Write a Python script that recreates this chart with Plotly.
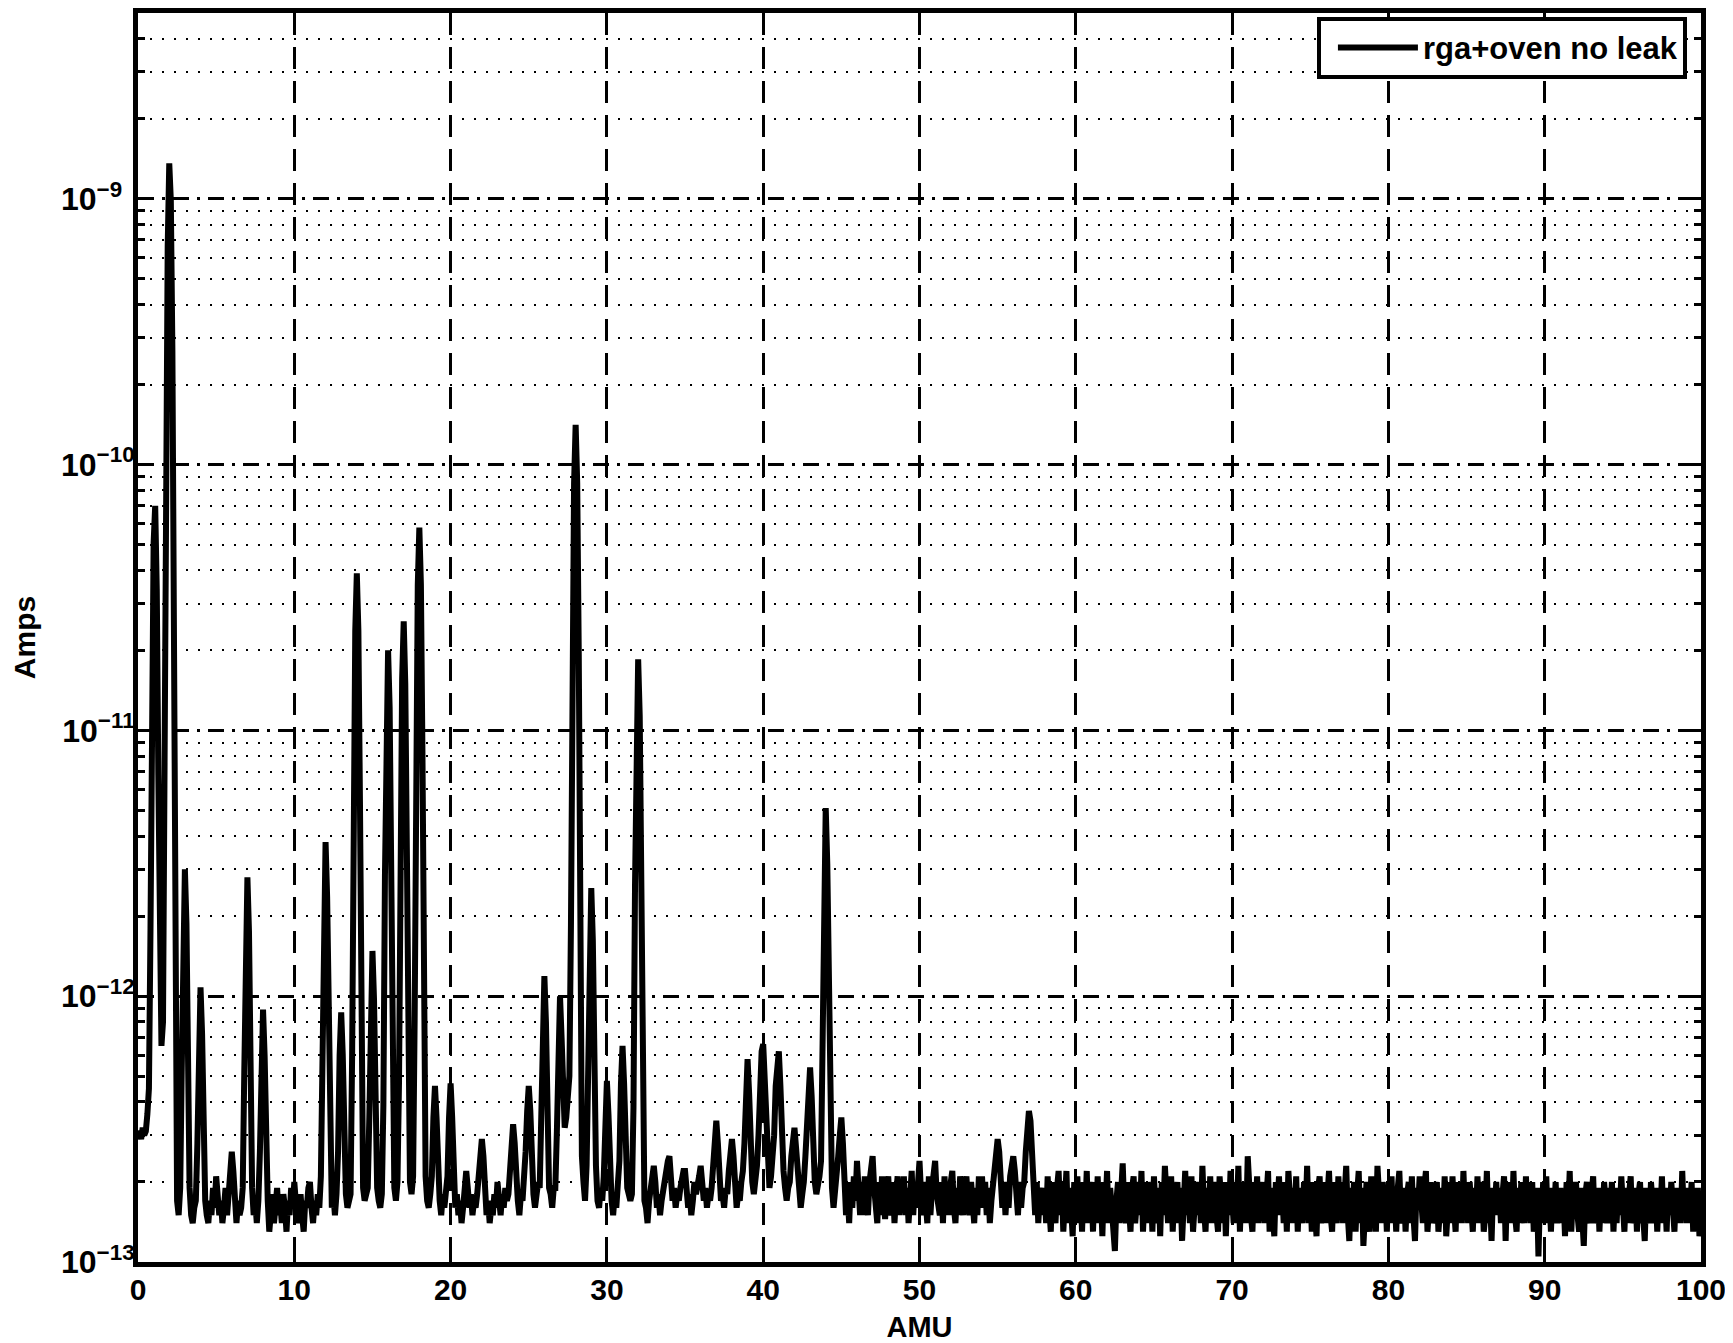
import numpy as np
import plotly.graph_objects as go

# Ion current in units of 1e-13 A, one value every 0.1 AMU (10 values per line = one AMU)
amps_00_10 = [
    3.0, 3.1, 2.9, 3.2, 3.0, 3.1, 3.6, 4.5, 18, 139,
    508, 700, 341, 68, 10, 6.5, 8.0, 86, 1210, 6620,
    13600, 9870, 2690, 270, 11.6, 1.7, 1.5, 1.9, 5.4, 18.8,
    30, 18.8, 5.4, 1.9, 1.5, 1.4, 1.6, 1.7, 2.8, 7.2,
    10.8, 7.2, 2.8, 1.7, 1.5, 1.4, 1.7, 1.5, 1.9, 1.6,
    2.1, 1.8, 1.5, 1.7, 1.4, 1.6, 1.9, 1.5, 1.8, 2.2,
    2.6, 2.2, 1.6, 1.4, 1.7, 1.5, 1.6, 1.9, 5.2, 17.6,
    28, 17.6, 5.2, 1.9, 1.5, 1.7, 1.4, 1.7, 2.6, 6.0,
    8.9, 6.0, 2.6, 1.7, 1.3, 1.5, 1.8, 1.4, 1.6, 1.9,
    1.5, 1.7, 1.4, 1.8, 1.6, 1.3, 1.7, 1.5, 1.9, 1.6,
]
amps_10_20 = [
    2.0, 1.7, 1.4, 1.6, 1.8, 1.5, 1.3, 1.7, 1.6, 1.9,
    2.0, 1.6, 1.4, 1.7, 1.5, 1.8, 1.6, 2.1, 6.6, 23.7,
    38, 23.7, 6.6, 2.1, 1.6, 1.8, 1.5, 1.8, 2.6, 6.0,
    8.7, 6.0, 2.6, 1.8, 1.6, 1.7, 1.8, 6.0, 54, 237,
    390, 237, 54, 6.0, 1.9, 1.7, 1.8, 1.9, 3.5, 9.7,
    14.8, 9.7, 3.5, 1.9, 1.7, 1.6, 1.8, 3.9, 28.5, 122,
    200, 122, 28.5, 3.9, 1.9, 1.7, 2.0, 4.8, 36, 157,
    257, 150, 36, 4.8, 2.0, 1.8, 2.1, 8.2, 80, 353,
    580, 353, 80, 8.2, 2.1, 1.7, 1.6, 1.8, 2.1, 3.5,
    4.6, 3.5, 2.1, 1.7, 1.5, 1.8, 1.6, 1.9, 2.1, 3.5,
]
amps_20_30 = [
    4.7, 3.5, 2.1, 1.6, 1.8, 1.5, 1.7, 1.4, 1.6, 1.9,
    2.2, 1.9, 1.6, 1.8, 1.5, 1.7, 1.6, 1.8, 2.1, 2.6,
    2.9, 2.5, 1.9, 1.5, 1.7, 1.4, 1.6, 1.5, 1.8, 1.6,
    2.0, 1.7, 1.5, 1.8, 1.6, 1.9, 1.7, 1.8, 2.1, 2.8,
    3.3, 2.8, 2.0, 1.7, 1.5, 1.8, 1.7, 2.0, 2.6, 3.7,
    4.6, 3.7, 2.3, 1.8, 1.6, 1.9, 2.0, 1.9, 3.2, 8.0,
    11.9, 8.0, 3.2, 1.9, 1.8, 1.6, 1.9, 1.9, 3.1, 7.0,
    10.0, 7.0, 3.6, 3.2, 3.5, 4.5, 5.0, 18.5, 190, 855,
    1410, 855, 190, 17.5, 2.5, 2.0, 1.7, 2.3, 5.2, 16.2,
    25.5, 16.2, 5.2, 2.3, 1.7, 1.6, 1.9, 1.7, 2.1, 3.6,
]
amps_30_40 = [
    4.8, 3.6, 2.2, 1.7, 1.5, 1.8, 1.6, 1.9, 2.4, 4.7,
    6.5, 4.7, 2.6, 1.9, 1.8, 1.7, 1.8, 3.8, 26.5, 113,
    185, 113, 26.5, 3.8, 1.7, 1.6, 1.4, 1.7, 1.9, 2.2,
    2.3, 2.0, 1.6, 1.8, 1.5, 1.7, 1.9, 2.1, 2.3, 2.4,
    2.5, 2.1, 1.7, 1.9, 1.6, 1.8, 1.7, 1.9, 2.0, 2.2,
    2.2, 1.9, 1.6, 1.8, 1.5, 1.7, 2.0, 1.8, 1.9, 2.1,
    2.3, 2.0, 1.7, 1.9, 1.6, 1.8, 1.7, 1.9, 2.2, 2.9,
    3.4, 2.8, 2.0, 1.7, 1.8, 1.6, 1.9, 1.8, 2.2, 2.6,
    2.9, 2.5, 1.9, 1.6, 1.8, 1.7, 2.0, 2.2, 2.8, 4.3,
    5.8, 4.3, 2.7, 2.0, 1.8, 2.0, 2.3, 3.0, 4.6, 6.2,
]
amps_40_50 = [
    6.6, 4.8, 2.8, 2.1, 1.9, 2.1, 2.4, 3.0, 4.6, 6.0,
    6.2, 4.6, 2.8, 2.2, 1.9, 1.7, 1.9, 2.0, 2.5, 2.9,
    3.2, 2.7, 2.1, 1.8, 1.6, 1.8, 2.0, 2.5, 3.4, 4.6,
    5.4, 4.2, 2.7, 2.0, 1.8, 1.9, 2.1, 2.4, 8.4, 31.5,
    51, 31.5, 8.4, 2.4, 1.9, 1.6, 1.8, 2.1, 2.5, 3.0,
    3.5, 2.8, 2.0, 1.5, 1.8, 1.4, 2.0, 1.6, 2.1, 1.7,
    2.4, 1.9, 1.5, 2.0, 1.5, 2.1, 1.6, 1.5, 2.0, 2.2,
    2.5, 1.9, 1.6, 1.4, 2.0, 1.5, 2.1, 1.6, 1.45, 1.9,
    2.1, 1.6, 1.5, 2.0, 1.4, 1.8, 2.1, 1.5, 2.0, 1.6,
    2.1, 1.5, 1.9, 1.4, 1.8, 2.2, 1.5, 2.0, 1.6, 2.1,
]
amps_50_60 = [
    2.4, 1.8, 1.5, 2.0, 1.6, 1.4, 2.1, 1.5, 1.9, 2.1,
    2.4, 1.8, 1.6, 1.5, 2.0, 1.4, 2.1, 1.6, 1.9, 1.5,
    2.0, 2.2, 1.6, 1.4, 1.9, 1.5, 2.1, 1.6, 1.5, 1.9,
    2.1, 1.7, 1.5, 2.0, 1.6, 1.4, 1.9, 1.5, 2.1, 1.7,
    2.1, 1.6, 2.0, 1.5, 1.9, 1.4, 1.7, 2.0, 2.2, 2.6,
    2.9, 2.6, 2.0, 1.6, 2.0, 1.5, 1.9, 1.6, 2.1, 2.3,
    2.5, 2.2, 1.7, 1.5, 2.0, 1.6, 1.9, 2.0, 2.6, 3.2,
    3.7, 3.4, 2.4, 1.7, 1.5, 2.0, 1.4, 1.8, 1.9, 1.5,
    1.9, 1.4, 2.1, 1.6, 1.3, 2.0, 1.7, 1.4, 1.9, 2.2,
    1.5, 2.0, 1.3, 1.8, 2.2, 1.4, 1.9, 1.6, 1.25, 2.0,
]
amps_60_70 = [
    1.7, 2.1, 1.4, 1.9, 1.3, 2.0, 1.5, 2.2, 1.4, 1.8,
    2.0, 1.3, 1.9, 1.5, 2.1, 1.4, 1.8, 1.25, 2.0, 1.6,
    2.2, 1.4, 1.9, 1.6, 1.35, 1.1, 1.7, 2.0, 1.4, 2.1,
    2.35, 1.6, 1.4, 2.0, 1.5, 1.3, 1.9, 2.1, 1.4, 1.8,
    2.0, 1.5, 2.2, 1.3, 1.8, 1.4, 2.0, 1.5, 1.9, 1.3,
    2.1, 1.6, 1.4, 1.9, 1.25, 2.0, 1.5, 2.3, 1.6, 1.4,
    1.9, 2.1, 1.3, 1.8, 1.5, 2.0, 1.4, 1.9, 1.2, 1.7,
    2.2, 1.5, 1.9, 1.4, 2.1, 1.3, 1.8, 2.0, 1.5, 1.9,
    1.4, 2.3, 1.6, 1.3, 1.9, 1.5, 2.1, 1.4, 1.8, 2.0,
    1.5, 1.3, 2.1, 1.6, 1.4, 2.0, 1.25, 1.9, 1.5, 2.2,
]
amps_70_80 = [
    1.6, 1.4, 2.0, 1.5, 2.3, 1.3, 1.9, 1.5, 2.0, 1.4,
    2.5, 1.7, 1.5, 1.3, 2.0, 1.6, 2.1, 1.4, 1.9, 1.5,
    2.0, 1.4, 1.8, 2.2, 1.3, 1.9, 1.5, 1.25, 2.0, 1.6,
    2.1, 1.5, 1.9, 1.4, 2.0, 1.3, 2.2, 1.6, 1.4, 1.9,
    1.5, 2.1, 1.3, 1.9, 1.6, 1.4, 2.0, 1.5, 2.3, 1.4,
    1.9, 1.3, 2.0, 1.5, 1.25, 1.9, 2.1, 1.4, 1.8, 2.0,
    1.4, 1.9, 2.2, 1.5, 1.3, 2.0, 1.6, 1.4, 2.1, 1.5,
    2.0, 1.4, 1.8, 2.3, 1.5, 1.2, 1.9, 1.5, 2.0, 1.3,
    1.8, 2.2, 1.4, 1.9, 1.15, 1.6, 2.0, 1.5, 1.3, 2.1,
    1.5, 1.9, 1.3, 2.3, 1.6, 1.4, 2.0, 1.5, 1.9, 1.3,
]
amps_80_90 = [
    2.0, 1.5, 2.1, 1.4, 1.8, 1.3, 1.9, 2.2, 1.5, 1.4,
    1.9, 1.3, 1.8, 2.0, 1.4, 2.1, 1.5, 1.2, 1.9, 1.6,
    2.1, 1.5, 1.4, 1.9, 2.2, 1.3, 1.8, 2.0, 1.4, 1.5,
    1.8, 2.0, 1.3, 1.5, 1.9, 1.4, 2.1, 1.25, 1.8, 2.0,
    1.4, 2.1, 1.6, 1.3, 2.0, 1.5, 1.9, 1.4, 2.2, 1.5,
    1.9, 1.4, 2.0, 1.6, 1.3, 1.9, 1.5, 2.1, 1.4, 1.8,
    2.0, 1.3, 1.5, 2.2, 1.4, 1.8, 1.2, 1.9, 1.5, 2.0,
    1.5, 1.9, 1.4, 1.8, 2.1, 1.2, 2.0, 1.5, 1.9, 1.4,
    2.2, 1.5, 1.3, 1.9, 1.4, 2.0, 1.6, 1.4, 2.1, 1.5,
    1.8, 1.4, 2.0, 1.3, 1.5, 1.9, 1.05, 1.8, 1.4, 2.0,
]
amps_90_100 = [
    1.5, 2.1, 1.4, 1.8, 1.3, 1.9, 1.5, 2.0, 1.4, 1.8,
    1.9, 1.4, 1.8, 1.25, 2.0, 1.5, 2.2, 1.3, 1.8, 1.5,
    2.0, 1.5, 1.3, 1.9, 1.4, 1.15, 1.8, 2.0, 1.5, 1.4,
    1.8, 2.1, 1.4, 1.5, 1.9, 1.3, 1.8, 1.4, 2.0, 1.5,
    1.4, 1.9, 1.5, 2.0, 1.3, 1.8, 1.4, 1.9, 1.5, 2.1,
    1.5, 1.3, 1.9, 1.4, 1.8, 2.1, 1.4, 1.5, 1.9, 1.3,
    1.8, 2.0, 1.4, 1.5, 1.2, 1.9, 1.5, 1.4, 2.0, 1.6,
    1.4, 1.9, 1.3, 1.8, 1.5, 2.1, 1.4, 1.8, 1.3, 1.9,
    1.5, 2.0, 1.4, 1.3, 1.9, 1.5, 1.8, 1.4, 2.2, 1.5,
    1.9, 1.4, 1.8, 1.5, 2.0, 1.3, 1.8, 1.4, 1.9, 1.25,
]
amps_100 = [1.6]

series_name = "rga+oven no leak"
x_tick_vals = [0, 10, 20, 30, 40, 50, 60, 70, 80, 90, 100]
y_tick_vals = [1e-13, 1e-12, 1e-11, 1e-10, 1e-9]
# exponent labels share a left edge (figure space pads the one-digit exponent)
y_tick_text = ["10<sup>\u221213</sup>", "10<sup>\u221212</sup>", "10<sup>\u221211</sup>",
               "10<sup>\u221210</sup>", "10<sup>\u22129\u2007</sup>"]
y_top = 5e-9

chunks = [amps_00_10, amps_10_20, amps_20_30, amps_30_40, amps_40_50,
          amps_50_60, amps_60_70, amps_70_80, amps_80_90, amps_90_100]
amu = []
amps = []
for k, chunk in enumerate(chunks):
    for i, v in enumerate(chunk):
        amu.append(round(10 * k + 0.1 * i, 1))
        amps.append(v * 1e-13)
amu.append(100.0)
amps.append(amps_100[0] * 1e-13)

y_minor = [m * 10.0 ** e for e in range(-13, -8) for m in range(2, 10) if m * 10.0 ** e < y_top]

FONT = "Liberation Sans, Arial, Helvetica, sans-serif"

fig = go.Figure()
fig.add_trace(go.Scatter(x=amu, y=amps, mode="lines", name=series_name,
                         line=dict(color="black", width=6)))

# page body has an 8px margin: figure is sized/placed so the plot box lands where the reference has it
fig.update_layout(
    width=1725, height=1335,
    margin=dict(l=130, r=32, t=5, b=81, autoexpand=False),
    paper_bgcolor="white", plot_bgcolor="white",
    font=dict(family=FONT, size=30, color="black", weight="bold"),
    showlegend=True,
    legend=dict(x=0.991, y=0.997, xanchor="right", yanchor="top",
                bordercolor="black", borderwidth=4, bgcolor="white",
                font=dict(family=FONT, size=31, color="black", weight="bold"),
                itemwidth=80, indentation=12),
)

fig.update_xaxes(
    range=[0, 100], tickvals=x_tick_vals, automargin=False,
    ticks="inside", ticklen=12, tickwidth=3, tickcolor="black",
    showline=True, linewidth=5, linecolor="black", mirror="ticks",
    showgrid=True, gridcolor="black", gridwidth=3, griddash="22px,12px",
    zeroline=False, ticklabelstandoff=-3,
    tickfont=dict(family=FONT, size=30, color="black", weight="bold"),
    title=dict(text="AMU", standoff=17,
               font=dict(family=FONT, size=29, color="black", weight="bold")),
)

fig.update_yaxes(
    type="log", range=[-13, np.log10(y_top)], automargin=False,
    tickvals=y_tick_vals, ticktext=y_tick_text,
    ticks="inside", ticklen=12, tickwidth=3, tickcolor="black",
    showline=True, linewidth=5, linecolor="black", mirror="ticks",
    showgrid=True, gridcolor="black", gridwidth=3, griddash="16px,8px,3px,8px",
    zeroline=False, ticklabelstandoff=-8,
    minor=dict(tickvals=y_minor, ticks="inside", ticklen=7, tickwidth=3,
               tickcolor="black", showgrid=True, gridcolor="black",
               gridwidth=2, griddash="2px,10px"),
    tickfont=dict(family=FONT, size=32, color="black", weight="bold"),
    title=dict(text="Amps", standoff=22,
               font=dict(family=FONT, size=30, color="black", weight="bold")),
)

fig.write_html("out.html")
